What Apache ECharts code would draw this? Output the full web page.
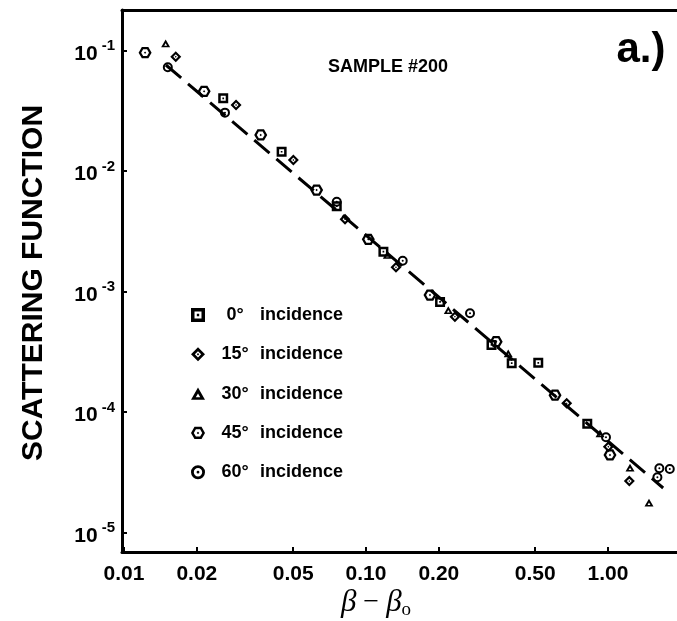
<!DOCTYPE html>
<html>
<head>
<meta charset="utf-8">
<script src="https://cdn.jsdelivr.net/npm/echarts@6/dist/echarts.min.js"></script>
<style>
html,body{margin:0;padding:0;background:#fff;}
#chart{width:677px;height:621px;}
</style>
</head>
<body>
<div id="chart"></div>
<script>
// ---- data ----
const seriesNames = ['0° incidence', '15° incidence', '30° incidence', '45° incidence', '60° incidence'];

const inc0 = [[0.0257, 0.0401], [0.0448, 0.01445], [0.0757, 5.1e-3], [0.118, 2.14e-3], [0.2023, 8.2e-4],
  [0.330, 3.6e-4], [0.400, 2.54e-4], [0.515, 2.56e-4], [0.821, 7.98e-5]];
const inc15 = [[0.01636, 0.0888], [0.02904, 0.0353], [0.0501, 0.01233], [0.0819, 3.97e-3], [0.133, 1.59e-3],
  [0.233, 6.18e-4], [0.675, 1.18e-4], [1.003, 5.15e-5], [1.225, 2.67e-5]];
const inc30 = [[0.01486, 0.1148], [0.1225, 2.01e-3], [0.2188, 7.0e-4], [0.387, 3.07e-4], [0.927, 6.65e-5],
  [1.233, 3.45e-5], [1.477, 1.77e-5]];
const inc45 = [[0.01222, 0.0959], [0.02143, 0.0458], [0.03672, 0.01991], [0.0625, 6.95e-3], [0.1022, 2.71e-3],
  [0.1838, 9.35e-4], [0.345, 3.83e-4], [0.604, 1.38e-4], [1.019, 4.40e-5]];
const inc60 = [[0.01517, 0.0726], [0.02613, 0.0305], [0.0757, 5.56e-3], [0.1418, 1.80e-3], [0.269, 6.59e-4],
  [0.981, 6.17e-5], [1.60, 2.87e-5], [1.63, 3.41e-5], [1.80, 3.37e-5]];

const fitLine = [[0.0149, 0.0758], [1.69, 2.34e-5]];

const xTicks = [0.01, 0.02, 0.05, 0.1, 0.2, 0.5, 1];
const xTickLabels = ['0.01', '0.02', '0.05', '0.10', '0.20', '0.50', '1.00'];
const yTicks = [1e-1, 1e-2, 1e-3, 1e-4, 1e-5];
const yTickExps = ['-1', '-2', '-3', '-4', '-5'];

// ---- symbols ----
const symSquare = 'path://M0,0L20,0L20,20L0,20Z M5,5L5,15L15,15L15,5Z M8.3,8.3L11.7,8.3L11.7,11.7L8.3,11.7Z';
const symDiamond = 'path://M10,0L20,10L10,20L0,10Z M10,5.5L5.5,10L10,14.5L14.5,10Z M10,8.3L11.7,10L10,11.7L8.3,10Z';
const symTriangle = 'path://M10,0L20,17.3L0,17.3Z M10,8.5L6.8,14L13.2,14Z';
const symHex = 'path://M20,10L15,18.66L5,18.66L0,10L5,1.34L15,1.34Z M16,10L13,4.8L7,4.8L4,10L7,15.2L13,15.2Z M11.8,10L10,11.8L8.2,10L10,8.2Z';
const symCircle = 'path://M0,10A10,10 0 1,1 20,10A10,10 0 1,1 0,10Z M4,10A6,6 0 1,0 16,10A6,6 0 1,0 4,10Z M8,10A2,2 0 1,1 12,10A2,2 0 1,1 8,10Z';

const FONT = '"Liberation Sans", Arial, Helvetica, sans-serif';

function near(a, b) { return Math.abs(Math.log10(a) - Math.log10(b)) < 1e-6; }

const chart = echarts.init(document.getElementById('chart'), null, {renderer: 'canvas'});

function scatter(name, data, symbol, size) {
  return {
    name: name, type: 'scatter', data: data, symbol: symbol, symbolSize: size,
    symbolKeepAspect: true,
    itemStyle: {color: '#000', opacity: 1},
    z: 3
  };
}

const option = {
  backgroundColor: '#fff',
  animation: false,
  grid: {left: 122, top: 10, right: 0, bottom: 69, containLabel: false},
  xAxis: [{
    type: 'log', logBase: 10, min: 0.00981, max: 1.928,
    position: 'bottom',
    axisLine: {show: true, lineStyle: {color: '#000', width: 3}},
    axisTick: {show: true, inside: true, length: 5, lineStyle: {color: '#000', width: 2}, customValues: xTicks},
    minorTick: {show: false},
    splitLine: {show: false},
    axisLabel: {
      show: true, margin: 12, color: '#000',
      fontFamily: FONT, fontSize: 21, fontWeight: 'bold',
      customValues: xTicks,
      formatter: function (v) {
        for (let i = 0; i < xTicks.length; i++) if (near(v, xTicks[i])) return xTickLabels[i];
        return '';
      }
    }
  }, {
    type: 'log', logBase: 10, min: 0.00981, max: 1.928,
    position: 'top',
    axisLine: {show: true, onZero: false, lineStyle: {color: '#000', width: 3}},
    axisTick: {show: false}, axisLabel: {show: false}, splitLine: {show: false}
  }],
  yAxis: {
    type: 'log', logBase: 10, min: 6.89e-6, max: 0.2168,
    axisLine: {show: true, lineStyle: {color: '#000', width: 3}},
    axisTick: {show: true, inside: true, length: 5, lineStyle: {color: '#000', width: 2}, customValues: yTicks},
    minorTick: {show: false},
    splitLine: {show: false},
    axisLabel: {
      show: true, margin: 7, color: '#000',
      customValues: yTicks,
      formatter: function (v) {
        for (let i = 0; i < yTicks.length; i++) if (near(v, yTicks[i])) return '{b|10}{s|' + yTickExps[i] + '}';
        return '';
      },
      rich: {
        b: {fontFamily: FONT, fontSize: 21, fontWeight: 'bold', color: '#000', lineHeight: 24, verticalAlign: 'bottom', padding: [0, 0, -2, 0]},
        s: {fontFamily: FONT, fontSize: 15, fontWeight: 'bold', color: '#000', padding: [0, 0, 9, 4], verticalAlign: 'bottom'}
      }
    }
  },
  legend: {
    show: true, orient: 'vertical', left: 186, top: 300,
    itemWidth: 14, itemHeight: 14, itemGap: 19.3,
    data: seriesNames,
    formatter: function (name) {
      const parts = name.split(' ');
      return '{n|' + parts[0] + '}{t|' + parts[1] + '}';
    },
    textStyle: {
      fontFamily: FONT, fontSize: 18, fontWeight: 'bold', color: '#000', lineHeight: 20,
      rich: {
        n: {width: 50, align: 'right', fontFamily: FONT, fontSize: 18, fontWeight: 'bold', color: '#000', lineHeight: 20},
        t: {fontFamily: FONT, fontSize: 18, fontWeight: 'bold', color: '#000', lineHeight: 20}
      }
    }
  },
  graphic: [
    {type: 'text', x: 388, y: 67, style: {text: 'SAMPLE #200', font: 'bold 18px ' + FONT, fill: '#000', align: 'center', verticalAlign: 'middle'}},
    {type: 'text', x: 641, y: 50, style: {text: 'a.)', font: 'bold 42px ' + FONT, fill: '#000', align: 'center', verticalAlign: 'middle'}},
    {type: 'text', x: 34, y: 283, rotation: Math.PI / 2, style: {text: 'SCATTERING FUNCTION', font: 'bold 30px ' + FONT, fill: '#000', align: 'center', verticalAlign: 'middle'}},
    {type: 'text', x: 376, y: 603, style: {
      text: '{i|β}{m| − }{i|β}{s|o}', align: 'center', verticalAlign: 'middle',
      rich: {
        i: {font: 'italic 31px "Liberation Serif", "DejaVu Serif", serif', fill: '#000'},
        m: {font: '28px "Liberation Serif", serif', fill: '#000'},
        s: {font: '19px "Liberation Serif", serif', fill: '#000', padding: [14, 0, 0, 0]}
      }
    }}
  ],
  series: [
    {
      name: 'fit', type: 'line', data: fitLine, showSymbol: false, symbol: 'none',
      lineStyle: {color: '#000', width: 3, type: [20, 9]}, z: 2, silent: true
    },
    scatter(seriesNames[0], inc0, symSquare, 10),
    scatter(seriesNames[1], inc15, symDiamond, 11),
    scatter(seriesNames[2], inc30, symTriangle, 9),
    scatter(seriesNames[3], inc45, symHex, 13),
    scatter(seriesNames[4], inc60, symCircle, 10)
  ]
};
chart.setOption(option);
</script>
</body>
</html>
